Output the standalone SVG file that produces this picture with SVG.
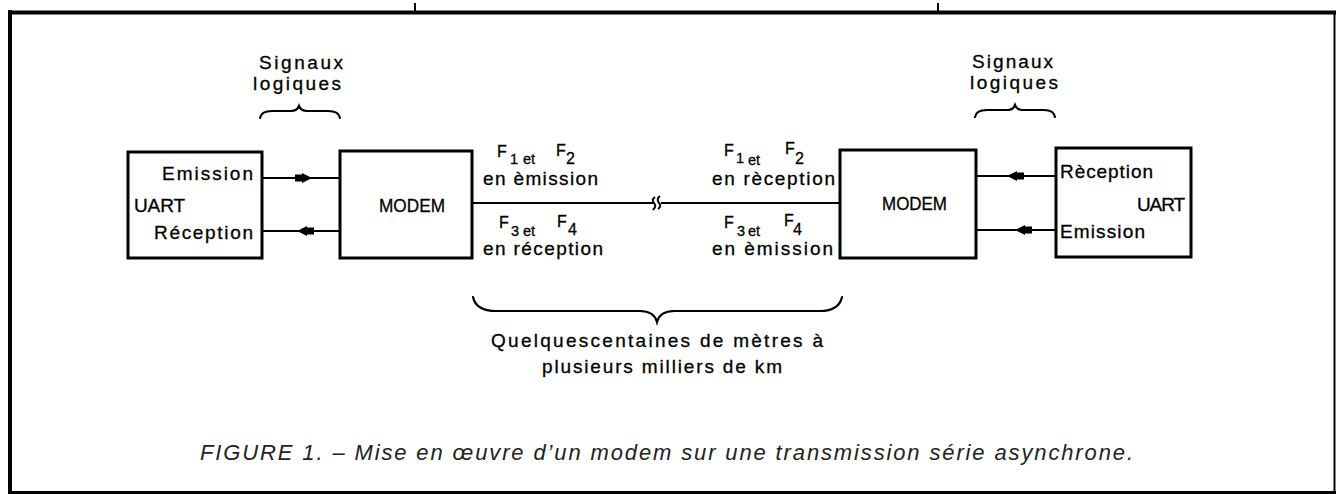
<svg xmlns="http://www.w3.org/2000/svg" width="1336" height="494" viewBox="0 0 1336 494">
<style>
  .lbl { font-family: "Liberation Sans", Arial, sans-serif; font-size: 19px; fill: #000; stroke: #000; stroke-width: 0.3; }
  .sm { font-family: "Liberation Sans", Arial, sans-serif; font-size: 16px; fill: #000; stroke: #000; stroke-width: 0.3; }
  .sub { font-size: 14.5px; }
  .box { fill: #fff; stroke: #000; stroke-width: 3; }
  .wire { stroke: #000; stroke-width: 2; fill: none; }
  .brace { stroke: #000; stroke-width: 2.2; fill: none; stroke-linecap: round; }
  .cap { font-family: "Liberation Sans", Arial, sans-serif; font-size: 22px; font-style: italic; fill: #222; }
</style>
<defs>
  <path id="arr" d="M0,0 L-10,-5 L-10,-3.5 L-17,-3.5 L-17,3.5 L-10,3.5 L-10,5 Z" fill="#000"/>
</defs>
<rect width="1336" height="494" fill="#fff"/>

<!-- frame -->
<g id="frame" fill="none" stroke="#000">
  <line x1="8" y1="12.5" x2="1336" y2="12.5" stroke-width="4"/>
  <line x1="10" y1="10" x2="10" y2="494" stroke-width="4"/>
  <line x1="1334.5" y1="12" x2="1334.5" y2="494" stroke-width="2"/>
  <line x1="8" y1="492.5" x2="1336" y2="492.5" stroke-width="3"/>
  <line x1="415" y1="3" x2="415" y2="11" stroke-width="2"/>
  <line x1="938" y1="3" x2="938" y2="11" stroke-width="2"/>
</g>

<!-- connectors -->
<g id="connectors">
  <line class="wire" x1="262" y1="178" x2="340" y2="178"/>
  <line class="wire" x1="262" y1="231" x2="340" y2="231"/>
  <use href="#arr" transform="translate(312,178)"/>
  <use href="#arr" transform="translate(297,231) rotate(180)"/>
  <line class="wire" x1="976" y1="176" x2="1056" y2="176"/>
  <line class="wire" x1="976" y1="230" x2="1056" y2="230"/>
  <use href="#arr" transform="translate(1007,176) rotate(180)"/>
  <use href="#arr" transform="translate(1015,230) rotate(180)"/>
  <line class="wire" x1="472" y1="203" x2="653" y2="203"/>
  <line class="wire" x1="661" y1="203" x2="840" y2="203"/>
  <path class="wire" stroke-width="1.6" d="M655,197 Q651,200 654,203 Q657,206 653,210"/>
  <path class="wire" stroke-width="1.6" d="M660,196 Q656,199 659,203 Q662,206 658,209"/>
</g>

<!-- braces -->
<g id="brace-left">
  <path class="brace" d="M260,118 Q261,111 272,111 L291,111 Q297,111 299,106 Q301,111 307,111 L328,111 Q339,111 340,118"/>
  <text class="lbl" x="259" y="69" textLength="84" lengthAdjust="spacing">Signaux</text>
  <text class="lbl" x="253" y="90" textLength="88" lengthAdjust="spacing">logiques</text>
</g>
<g id="brace-right">
  <path class="brace" d="M975,117 Q976,110 987,110 L1008,110 Q1013,110 1015,105 Q1017,110 1022,110 L1044,110 Q1054,110 1055,117"/>
  <text class="lbl" x="972" y="68" textLength="81" lengthAdjust="spacing">Signaux</text>
  <text class="lbl" x="970" y="89" textLength="88" lengthAdjust="spacing">logiques</text>
</g>
<g id="brace-bottom">
  <path class="brace" d="M473,297 Q476,311 496,311 L640,311 Q654,311 657,322 Q660,311 674,311 L820,311 Q839,311 842,297"/>
  <text class="lbl" x="491" y="347" textLength="332" lengthAdjust="spacing">Quelquescentaines de mètres à</text>
  <text class="lbl" x="542" y="373" textLength="240" lengthAdjust="spacing">plusieurs milliers de km</text>
</g>

<!-- nodes -->
<g id="uart-left">
  <rect class="box" x="128" y="152" width="134" height="106"/>
  <text class="lbl" x="162" y="180" textLength="91" lengthAdjust="spacing">Emission</text>
  <text class="lbl" x="134" y="212" textLength="51" lengthAdjust="spacing">UART</text>
  <text class="lbl" x="154" y="239" textLength="99" lengthAdjust="spacing">Réception</text>
</g>
<g id="modem-left">
  <rect class="box" x="340" y="151" width="132" height="107"/>
  <text class="lbl" x="379" y="212" textLength="66" lengthAdjust="spacingAndGlyphs">MODEM</text>
</g>
<g id="modem-right">
  <rect class="box" x="840" y="150" width="136" height="108"/>
  <text class="lbl" x="882" y="210" textLength="65" lengthAdjust="spacingAndGlyphs">MODEM</text>
</g>
<g id="uart-right">
  <rect class="box" x="1056" y="148" width="135" height="109"/>
  <text class="lbl" x="1060" y="178" textLength="93" lengthAdjust="spacing">Rèception</text>
  <text class="lbl" x="1137" y="211" textLength="48" lengthAdjust="spacing">UART</text>
  <text class="lbl" x="1060" y="238" textLength="85" lengthAdjust="spacing">Emission</text>
</g>

<!-- line labels -->
<g id="labels-left">
  <text class="sm" x="497" y="157">F<tspan class="sub" x="510" y="164">1</tspan><tspan class="sub" x="523" y="164">et</tspan><tspan x="556" y="156">F</tspan><tspan x="566" y="164">2</tspan></text>
  <text class="lbl" x="483" y="185" textLength="115" lengthAdjust="spacing">en èmission</text>
  <text class="sm" x="499" y="228">F<tspan class="sub" x="511" y="236">3</tspan><tspan class="sub" x="523" y="236">et</tspan><tspan x="557" y="227">F</tspan><tspan x="568" y="235">4</tspan></text>
  <text class="lbl" x="483" y="255" textLength="120" lengthAdjust="spacing">en réception</text>
</g>
<g id="labels-right">
  <text class="sm" x="724" y="156">F<tspan class="sub" x="736" y="163">1</tspan><tspan class="sub" x="748" y="165">et</tspan><tspan x="785" y="154">F</tspan><tspan x="795" y="164">2</tspan></text>
  <text class="lbl" x="712" y="185" textLength="123" lengthAdjust="spacing">en rèception</text>
  <text class="sm" x="724" y="228">F<tspan class="sub" x="737" y="236">3</tspan><tspan class="sub" x="748" y="236">et</tspan><tspan x="784" y="226">F</tspan><tspan x="793" y="235">4</tspan></text>
  <text class="lbl" x="712" y="255" textLength="121" lengthAdjust="spacing">en èmission</text>
</g>

<g id="caption">
  <text class="cap" x="200" y="460" textLength="933" lengthAdjust="spacing">FIGURE 1. – Mise en œuvre d’un modem sur une transmission série asynchrone.</text>
</g>
</svg>
